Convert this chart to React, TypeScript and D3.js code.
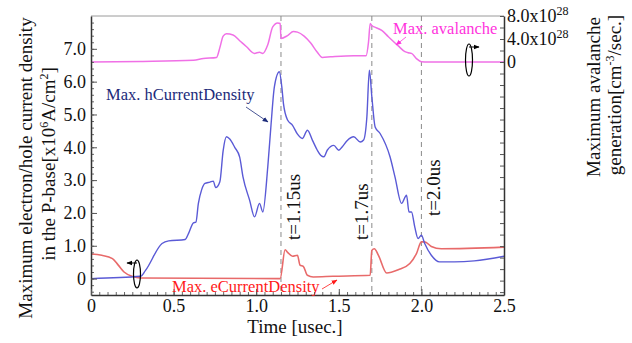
import React, { useEffect, useRef } from 'react';
import * as d3 from 'd3';

// time [usec] vs value pairs
const avalanche: [number, number][] = [
  [0, 0], [0.3, 0.1], [0.62, 0.3], [0.68, 0.6], [0.76, 0.8], [0.78, 2.5], [0.8, 4.5],
  [0.82, 4.9], [0.86, 4.7], [0.9, 3.7], [0.94, 2.7], [0.99, 1.5], [1.02, 1.7], [1.04, 1.5],
  [1.07, 3.0], [1.1, 6.1], [1.13, 6.8], [1.145, 6.7], [1.15, 4.1], [1.19, 4.6], [1.225, 5.3],
  [1.25, 5.2], [1.29, 4.5], [1.33, 3.3], [1.37, 1.7], [1.4, 0.8], [1.45, 0.9], [1.59, 1.1],
  [1.665, 1.1], [1.68, 3.5], [1.69, 6.7], [1.7, 6.3], [1.715, 6.1], [1.76, 5.5], [1.8, 4.4],
  [1.86, 2.8], [1.9, 1.8], [1.92, 1.6], [1.94, 1.5], [1.97, 0.6], [2.0, 0.05], [2.04, 0], [2.5, 0],
];

const hCurrent: [number, number][] = [
  [0, 0], [0.3, 0.07], [0.33, 0.25], [0.43, 1.07], [0.47, 1.15], [0.57, 1.19], [0.59, 1.37],
  [0.62, 1.7], [0.635, 1.72], [0.65, 2.29], [0.67, 2.71], [0.69, 2.9], [0.72, 2.94], [0.74, 2.97],
  [0.755, 2.77], [0.78, 2.95], [0.8, 3.9], [0.82, 4.32], [0.84, 4.25], [0.87, 4.0], [0.9, 3.7],
  [0.92, 3.1], [0.96, 2.39], [0.99, 1.88], [1.02, 2.29], [1.04, 2.03], [1.07, 3.4], [1.09, 4.7],
  [1.11, 5.84], [1.14, 6.3], [1.155, 5.84], [1.165, 5.33], [1.19, 4.83], [1.22, 4.67], [1.25, 4.4],
  [1.28, 4.27], [1.31, 4.52], [1.34, 4.22], [1.37, 3.91], [1.39, 3.76], [1.41, 3.71], [1.43, 3.91],
  [1.47, 4.06], [1.5, 3.91], [1.52, 4.01], [1.55, 4.2], [1.59, 4.32], [1.63, 4.16], [1.65, 4.22],
  [1.67, 4.93], [1.685, 6.35], [1.7, 5.54], [1.72, 4.62], [1.75, 4.42], [1.81, 3.71], [1.84, 3.1],
  [1.88, 2.29], [1.91, 2.54], [1.925, 2.03], [1.94, 2.03], [1.96, 1.57], [1.98, 1.22], [2.0, 1.32],
  [2.02, 1.07], [2.06, 0.71], [2.11, 0.51], [2.2, 0.51], [2.32, 0.54], [2.5, 0.68],
];

const eCurrent: [number, number][] = [
  [0, 0.75], [0.065, 0.71], [0.13, 0.61], [0.165, 0.41], [0.2, 0.2], [0.25, 0.07], [0.3, 0.02],
  [1.145, 0.0], [1.175, 0.88], [1.19, 0.8], [1.22, 0.68], [1.25, 0.71], [1.265, 0.41], [1.285, 0.37],
  [1.31, 0.1], [1.345, 0.05], [1.465, 0.07], [1.69, 0.1], [1.7, 0.86], [1.715, 0.91], [1.74, 0.71],
  [1.79, 0.17], [1.86, 0.27], [1.93, 0.46], [1.97, 0.76], [2.0, 1.12], [2.02, 1.12], [2.06, 0.98],
  [2.12, 0.91], [2.5, 0.96],
];

const markers = [
  { t: 1.15, label: 't=1.15us', side: 1 },
  { t: 1.7, label: 't=1.7us', side: -1 },
  { t: 2.0, label: 't=2.0us', side: 1 },
];

const xTicks = [0, 0.5, 1.0, 1.5, 2.0, 2.5];
const leftTicks = [0, 1, 2, 3, 4, 5, 6, 7];
const rightLabels = [
  { v: 8, mant: '8.0x10', exp: '28' },
  { v: 4, mant: '4.0x10', exp: '28' },
  { v: 0, mant: '0', exp: '' },
];

const FONT = 'Liberation Serif';

export default function App() {
  const svgRef = useRef<SVGSVGElement>(null);

  useEffect(() => {
    const svg = d3.select(svgRef.current);
    svg.selectAll('*').remove();

    const left = 91, right = 504, top = 16, bottom = 295;

    const x = d3.scaleLinear().domain([0, 2.5]).range([left, right]);
    const yL = d3.scaleLinear().domain([-0.5, 8]).range([bottom, top]);
    const yR = d3.scaleLinear().domain([-40.5, 8]).range([bottom, top]);

    const defs = svg.append('defs');
    const mk = (id: string, color: string) =>
      defs.append('marker')
        .attr('id', id)
        .attr('viewBox', '0 0 10 10')
        .attr('refX', 9).attr('refY', 5)
        .attr('markerWidth', 6).attr('markerHeight', 6)
        .attr('markerUnits', 'userSpaceOnUse')
        .attr('orient', 'auto')
        .append('path').attr('d', 'M0,1 L10,5 L0,9 Z').attr('fill', color);
    mk('arrNavy', '#1c2b7a');
    mk('arrRed', '#ff1a1a');
    mk('arrPink', '#ff33dd');
    mk('arrBlack', '#000');

    // frame top line
    svg.append('line')
      .attr('x1', left).attr('x2', right).attr('y1', top).attr('y2', top)
      .attr('stroke', '#9a9a9a').attr('stroke-width', 1);

    // dashed time markers
    markers.forEach(m => {
      svg.append('line')
        .attr('x1', x(m.t)).attr('x2', x(m.t))
        .attr('y1', top).attr('y2', bottom)
        .attr('stroke', '#8a8a8a').attr('stroke-width', 1)
        .attr('stroke-dasharray', '5,4');
    });

    const line = (yS: d3.ScaleLinear<number, number>) =>
      d3.line<[number, number]>()
        .x(d => x(d[0]))
        .y(d => yS(d[1]))
        .curve(d3.curveMonotoneX);

    svg.append('path').datum(avalanche)
      .attr('d', line(yR)).attr('fill', 'none')
      .attr('stroke', '#f070e6').attr('stroke-width', 1.5);
    svg.append('path').datum(eCurrent)
      .attr('d', line(yL)).attr('fill', 'none')
      .attr('stroke', '#e86a6a').attr('stroke-width', 1.6);
    svg.append('path').datum(hCurrent)
      .attr('d', line(yL)).attr('fill', 'none')
      .attr('stroke', '#5a5ad6').attr('stroke-width', 1.4);

    // axes
    const styleAxis = (g: any) => {
      g.attr('font-family', FONT).attr('font-size', 18);
      g.select('.domain').attr('stroke', '#333').attr('stroke-width', 1.5);
      g.selectAll('.tick line').attr('stroke', '#555');
      g.selectAll('text').attr('fill', '#111');
    };

    // left minor + major
    svg.append('g')
      .attr('transform', `translate(${left},0)`)
      .call(d3.axisLeft(yL).tickValues(d3.range(-0.4, 8, 0.2)).tickSize(-3).tickFormat(() => ''))
      .call((g: any) => { g.select('.domain').remove(); g.selectAll('line').attr('stroke', '#666'); });
    svg.append('g')
      .attr('transform', `translate(${left},0)`)
      .call(d3.axisLeft(yL).tickValues(leftTicks).tickSizeInner(-6).tickSizeOuter(0).tickPadding(5)
        .tickFormat((d: any) => (d === 0 ? '0' : d3.format('.1f')(d))))
      .call(styleAxis);

    // bottom minor + major
    svg.append('g')
      .attr('transform', `translate(0,${bottom})`)
      .call(d3.axisBottom(x).tickValues(d3.range(0.05, 2.5, 0.05)).tickSize(-3).tickFormat(() => ''))
      .call((g: any) => { g.select('.domain').remove(); g.selectAll('line').attr('stroke', '#666'); });
    svg.append('g')
      .attr('transform', `translate(0,${bottom})`)
      .call(d3.axisBottom(x).tickValues(xTicks).tickSizeInner(-6).tickSizeOuter(0).tickPadding(4)
        .tickFormat((d: any) => (d === 0 ? '0' : d3.format('.1f')(d))))
      .call(styleAxis);

    // right axis
    svg.append('g')
      .attr('transform', `translate(${right},0)`)
      .call(d3.axisRight(yR).tickValues(d3.range(-40, 9, 2)).tickSizeInner(-4).tickSizeOuter(0).tickFormat(() => ''))
      .call(styleAxis);

    const rl = svg.append('g')
      .attr('font-family', FONT).attr('font-size', 18).attr('fill', '#111');
    rightLabels.forEach(r => {
      const t = rl.append('text')
        .attr('x', right + 3).attr('y', yR(r.v)).attr('dy', '0.33em');
      t.append('tspan').text(r.mant);
      if (r.exp) {
        t.append('tspan').attr('dy', -7).attr('font-size', 12).text(r.exp);
      }
    });

    // marker labels
    markers.forEach(m => {
      const tx = x(m.t) + (m.side > 0 ? 19 : -4);
      svg.append('text')
        .attr('transform', `translate(${tx},${m.t === 2.0 ? 216 : 240}) rotate(-90)`)
        .attr('font-family', FONT).attr('font-size', 19)
        .attr('fill', '#111')
        .text(m.label);
    });

    // annotations
    const ann = (txt: string, tx: number, ty: number, color: string, a: number[], mid: string) => {
      svg.append('text')
        .attr('x', tx).attr('y', ty)
        .attr('font-family', FONT).attr('font-size', 16.5)
        .attr('fill', color).text(txt);
      svg.append('line')
        .attr('x1', a[0]).attr('y1', a[1]).attr('x2', a[2]).attr('y2', a[3])
        .attr('stroke', color).attr('stroke-width', 0.8)
        .attr('marker-end', `url(#${mid})`);
    };
    ann('Max. hCurrentDensity', 106, 100, '#1c2b7a', [246, 107, 268, 122], 'arrNavy');
    ann('Max. eCurrentDensity', 172, 292, '#ff1a1a', [322, 289, 337, 280], 'arrRed');
    ann('Max. avalanche', 393, 34, '#ff33dd', [406, 37, 396, 45], 'arrPink');

    // rotation icons
    const icon = (cx: number, cy: number, ry: number, ay: number, dir: number) => {
      svg.append('ellipse')
        .attr('cx', cx).attr('cy', cy).attr('rx', 3.5).attr('ry', ry)
        .attr('fill', 'none').attr('stroke', '#000').attr('stroke-width', 1.2);
      svg.append('line')
        .attr('x1', cx).attr('y1', ay).attr('x2', cx + dir * 10).attr('y2', ay)
        .attr('stroke', '#000').attr('stroke-width', 1)
        .attr('marker-end', 'url(#arrBlack)');
    };
    icon(137, 274, 14, 263, -1);
    icon(469, 60, 16, 47, 1);

    // axis titles
    const title = (txt: (t: any) => void, tx: number, ty: number) => {
      const t = svg.append('text')
        .attr('transform', `translate(${tx},${ty}) rotate(-90)`)
        .attr('text-anchor', 'middle')
        .attr('font-family', FONT).attr('font-size', 19)
        .attr('fill', '#111');
      txt(t);
    };
    title(t => t.text('Maximum electron/hole current density'), 32, 168);
    title(t => {
      t.append('tspan').text('in the P-base[x10');
      t.append('tspan').attr('dy', -7).attr('font-size', 12).text('6');
      t.append('tspan').attr('dy', 7).text('A/cm');
      t.append('tspan').attr('dy', -7).attr('font-size', 12).text('2');
      t.append('tspan').attr('dy', 7).text(']');
    }, 55, 164);
    title(t => t.text('Maximum avalanche'), 600, 97);
    title(t => {
      t.append('tspan').text('generation[cm');
      t.append('tspan').attr('dy', -7).attr('font-size', 12).text('-3');
      t.append('tspan').attr('dy', 7).text('/sec.]');
    }, 621, 95);

    svg.append('text')
      .attr('x', 295).attr('y', 333)
      .attr('text-anchor', 'middle')
      .attr('font-family', FONT).attr('font-size', 19)
      .attr('fill', '#111')
      .text('Time [usec.]');
  }, []);

  return (
    <svg
      ref={svgRef}
      width={632}
      height={343}
      style={{ position: 'absolute', left: 0, top: 0, background: '#fff' }}
    />
  );
}
